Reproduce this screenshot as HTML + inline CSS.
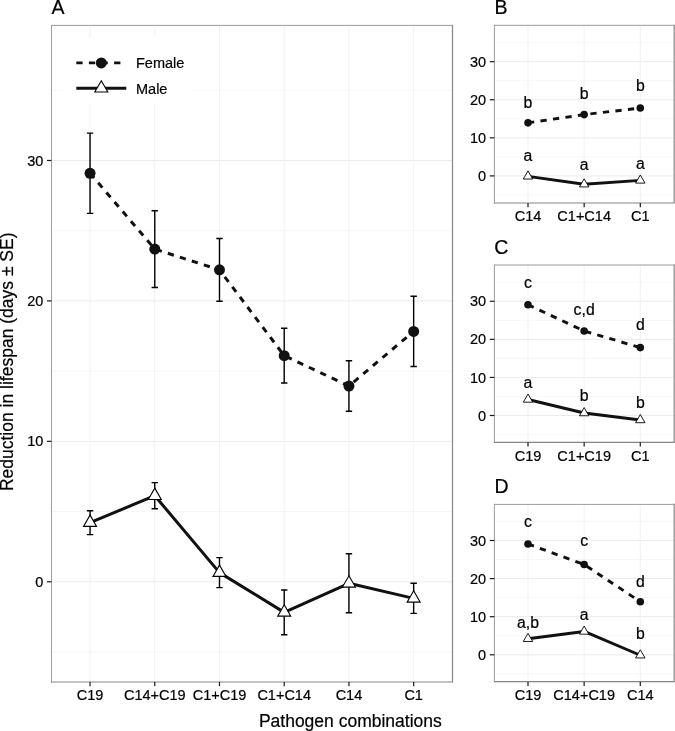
<!DOCTYPE html>
<html><head><meta charset="utf-8"><style>
html,body{margin:0;padding:0;background:#fff;}
body{width:675px;height:731px;overflow:hidden;}
svg{display:block;will-change:transform;}
text{font-family:"Liberation Sans", sans-serif;fill:#000;stroke:#000;stroke-width:0.2px;}
</style></head><body>
<svg width="675" height="731" viewBox="0 0 675 731" font-size="14.5">
<rect width="675" height="731" fill="#fff"/>
<line x1="51.5" y1="651.99" x2="452.5" y2="651.99" stroke="#f7f7f7"/>
<line x1="51.5" y1="511.55" x2="452.5" y2="511.55" stroke="#f7f7f7"/>
<line x1="51.5" y1="371.12" x2="452.5" y2="371.12" stroke="#f7f7f7"/>
<line x1="51.5" y1="230.69" x2="452.5" y2="230.69" stroke="#f7f7f7"/>
<line x1="51.5" y1="90.26" x2="452.5" y2="90.26" stroke="#f7f7f7"/>
<line x1="51.5" y1="581.77" x2="452.5" y2="581.77" stroke="#ebebeb"/>
<line x1="51.5" y1="441.34" x2="452.5" y2="441.34" stroke="#ebebeb"/>
<line x1="51.5" y1="300.91" x2="452.5" y2="300.91" stroke="#ebebeb"/>
<line x1="51.5" y1="160.48" x2="452.5" y2="160.48" stroke="#ebebeb"/>
<line x1="90.05" y1="25.4" x2="90.05" y2="682" stroke="#f1f1f1"/>
<line x1="154.77" y1="25.4" x2="154.77" y2="682" stroke="#f1f1f1"/>
<line x1="219.49" y1="25.4" x2="219.49" y2="682" stroke="#f1f1f1"/>
<line x1="284.21" y1="25.4" x2="284.21" y2="682" stroke="#f1f1f1"/>
<line x1="348.93" y1="25.4" x2="348.93" y2="682" stroke="#f1f1f1"/>
<line x1="413.65" y1="25.4" x2="413.65" y2="682" stroke="#f1f1f1"/>
<path d="M86.85 133.1H93.25M90.05 133.1V213.42M86.85 213.42H93.25" stroke="#000" stroke-width="1.4" fill="none"/>
<path d="M86.85 510.71H93.25M90.05 510.71V534.59M86.85 534.59H93.25" stroke="#000" stroke-width="1.4" fill="none"/>
<path d="M151.57 210.75H157.97M154.77 210.75V287.43M151.57 287.43H157.97" stroke="#000" stroke-width="1.4" fill="none"/>
<path d="M151.57 482.63H157.97M154.77 482.63V508.75M151.57 508.75H157.97" stroke="#000" stroke-width="1.4" fill="none"/>
<path d="M216.29 238.56H222.69M219.49 238.56V301.19M216.29 301.19H222.69" stroke="#000" stroke-width="1.4" fill="none"/>
<path d="M216.29 557.62H222.69M219.49 557.62V587.67M216.29 587.67H222.69" stroke="#000" stroke-width="1.4" fill="none"/>
<path d="M281.01 328.29H287.41M284.21 328.29V383.06M281.01 383.06H287.41" stroke="#000" stroke-width="1.4" fill="none"/>
<path d="M281.01 590.06H287.41M284.21 590.06V634.71M281.01 634.71H287.41" stroke="#000" stroke-width="1.4" fill="none"/>
<path d="M345.73 360.73H352.13M348.93 360.73V411.29M345.73 411.29H352.13" stroke="#000" stroke-width="1.4" fill="none"/>
<path d="M345.73 553.82H352.13M348.93 553.82V612.81M345.73 612.81H352.13" stroke="#000" stroke-width="1.4" fill="none"/>
<path d="M410.45 296.28H416.85M413.65 296.28V366.49M410.45 366.49H416.85" stroke="#000" stroke-width="1.4" fill="none"/>
<path d="M410.45 583.31H416.85M413.65 583.31V613.37M410.45 613.37H416.85" stroke="#000" stroke-width="1.4" fill="none"/>
<polyline points="90.05,173.26 154.77,249.09 219.49,269.87 284.21,355.68 348.93,386.01 413.65,331.38" fill="none" stroke="#111" stroke-width="3.0" stroke-dasharray="6.3 6.3"/>
<polyline points="90.05,522.65 154.77,495.69 219.49,572.64 284.21,612.38 348.93,583.31 413.65,598.34" fill="none" stroke="#111" stroke-width="3.0" stroke-linejoin="round"/>
<circle cx="90.05" cy="173.26" r="5.5" fill="#111"/>
<circle cx="154.77" cy="249.09" r="5.5" fill="#111"/>
<circle cx="219.49" cy="269.87" r="5.5" fill="#111"/>
<circle cx="284.21" cy="355.68" r="5.5" fill="#111"/>
<circle cx="348.93" cy="386.01" r="5.5" fill="#111"/>
<circle cx="413.65" cy="331.38" r="5.5" fill="#111"/>
<path d="M90.05 515.11L96.58 526.42L83.52 526.42Z" fill="#fff" stroke="#000" stroke-width="1.1"/>
<path d="M154.77 488.14L161.3 499.46L148.24 499.46Z" fill="#fff" stroke="#000" stroke-width="1.1"/>
<path d="M219.49 565.1L226.02 576.41L212.96 576.41Z" fill="#fff" stroke="#000" stroke-width="1.1"/>
<path d="M284.21 604.84L290.74 616.16L277.68 616.16Z" fill="#fff" stroke="#000" stroke-width="1.1"/>
<path d="M348.93 575.77L355.46 587.09L342.4 587.09Z" fill="#fff" stroke="#000" stroke-width="1.1"/>
<path d="M413.65 590.8L420.18 602.11L407.12 602.11Z" fill="#fff" stroke="#000" stroke-width="1.1"/>
<path d="M452.5 24.8V682.6M50.9 682H453.1" stroke="#858585" stroke-width="1.2" fill="none"/>
<path d="M51.5 24.9V682.6M51 25.4H453.1" stroke="#9c9c9c" stroke-width="1" fill="none"/>
<line x1="46.9" y1="581.77" x2="51.5" y2="581.77" stroke="#1a1a1a" stroke-width="1.2"/>
<text x="43.3" y="586.87" text-anchor="end">0</text>
<line x1="46.9" y1="441.34" x2="51.5" y2="441.34" stroke="#1a1a1a" stroke-width="1.2"/>
<text x="43.3" y="446.44" text-anchor="end">10</text>
<line x1="46.9" y1="300.91" x2="51.5" y2="300.91" stroke="#1a1a1a" stroke-width="1.2"/>
<text x="43.3" y="306.01" text-anchor="end">20</text>
<line x1="46.9" y1="160.48" x2="51.5" y2="160.48" stroke="#1a1a1a" stroke-width="1.2"/>
<text x="43.3" y="165.58" text-anchor="end">30</text>
<line x1="90.05" y1="682" x2="90.05" y2="686.2" stroke="#1a1a1a" stroke-width="1.2"/>
<text x="90.05" y="700.4" text-anchor="middle">C19</text>
<line x1="154.77" y1="682" x2="154.77" y2="686.2" stroke="#1a1a1a" stroke-width="1.2"/>
<text x="154.77" y="700.4" text-anchor="middle">C14+C19</text>
<line x1="219.49" y1="682" x2="219.49" y2="686.2" stroke="#1a1a1a" stroke-width="1.2"/>
<text x="219.49" y="700.4" text-anchor="middle">C1+C19</text>
<line x1="284.21" y1="682" x2="284.21" y2="686.2" stroke="#1a1a1a" stroke-width="1.2"/>
<text x="284.21" y="700.4" text-anchor="middle">C1+C14</text>
<line x1="348.93" y1="682" x2="348.93" y2="686.2" stroke="#1a1a1a" stroke-width="1.2"/>
<text x="348.93" y="700.4" text-anchor="middle">C14</text>
<line x1="413.65" y1="682" x2="413.65" y2="686.2" stroke="#1a1a1a" stroke-width="1.2"/>
<text x="413.65" y="700.4" text-anchor="middle">C1</text>
<line x1="494.4" y1="194.94" x2="674.2" y2="194.94" stroke="#f7f7f7"/>
<line x1="494.4" y1="156.87" x2="674.2" y2="156.87" stroke="#f7f7f7"/>
<line x1="494.4" y1="118.8" x2="674.2" y2="118.8" stroke="#f7f7f7"/>
<line x1="494.4" y1="80.73" x2="674.2" y2="80.73" stroke="#f7f7f7"/>
<line x1="494.4" y1="42.66" x2="674.2" y2="42.66" stroke="#f7f7f7"/>
<line x1="494.4" y1="175.9" x2="674.2" y2="175.9" stroke="#ebebeb"/>
<line x1="494.4" y1="137.83" x2="674.2" y2="137.83" stroke="#ebebeb"/>
<line x1="494.4" y1="99.76" x2="674.2" y2="99.76" stroke="#ebebeb"/>
<line x1="494.4" y1="61.69" x2="674.2" y2="61.69" stroke="#ebebeb"/>
<line x1="528" y1="25.3" x2="528" y2="203" stroke="#f1f1f1"/>
<line x1="584.15" y1="25.3" x2="584.15" y2="203" stroke="#f1f1f1"/>
<line x1="640.3" y1="25.3" x2="640.3" y2="203" stroke="#f1f1f1"/>
<polyline points="528,122.83 584.15,114.61 640.3,108.02" fill="none" stroke="#111" stroke-width="2.9" stroke-dasharray="6.3 6.3"/>
<polyline points="528,176.32 584.15,184.2 640.3,180.39" fill="none" stroke="#111" stroke-width="2.9" stroke-linejoin="round"/>
<circle cx="528" cy="122.83" r="3.8" fill="#111"/>
<circle cx="584.15" cy="114.61" r="3.8" fill="#111"/>
<circle cx="640.3" cy="108.02" r="3.8" fill="#111"/>
<path d="M528 170.88L532.71 179.04L523.29 179.04Z" fill="#fff" stroke="#000" stroke-width="0.9"/>
<path d="M584.15 178.76L588.86 186.92L579.44 186.92Z" fill="#fff" stroke="#000" stroke-width="0.9"/>
<path d="M640.3 174.95L645.01 183.11L635.59 183.11Z" fill="#fff" stroke="#000" stroke-width="0.9"/>
<path d="M674.2 24.7V203.6M493.8 203H674.8" stroke="#858585" stroke-width="1.2" fill="none"/>
<path d="M494.4 24.8V203.6M493.9 25.3H674.8" stroke="#9c9c9c" stroke-width="1" fill="none"/>
<line x1="489.8" y1="175.9" x2="494.4" y2="175.9" stroke="#1a1a1a" stroke-width="1.2"/>
<text x="486.2" y="181" text-anchor="end">0</text>
<line x1="489.8" y1="137.83" x2="494.4" y2="137.83" stroke="#1a1a1a" stroke-width="1.2"/>
<text x="486.2" y="142.93" text-anchor="end">10</text>
<line x1="489.8" y1="99.76" x2="494.4" y2="99.76" stroke="#1a1a1a" stroke-width="1.2"/>
<text x="486.2" y="104.86" text-anchor="end">20</text>
<line x1="489.8" y1="61.69" x2="494.4" y2="61.69" stroke="#1a1a1a" stroke-width="1.2"/>
<text x="486.2" y="66.79" text-anchor="end">30</text>
<line x1="528" y1="203" x2="528" y2="207.2" stroke="#1a1a1a" stroke-width="1.2"/>
<text x="528" y="221.4" text-anchor="middle">C14</text>
<line x1="584.15" y1="203" x2="584.15" y2="207.2" stroke="#1a1a1a" stroke-width="1.2"/>
<text x="584.15" y="221.4" text-anchor="middle">C1+C14</text>
<line x1="640.3" y1="203" x2="640.3" y2="207.2" stroke="#1a1a1a" stroke-width="1.2"/>
<text x="640.3" y="221.4" text-anchor="middle">C1</text>
<text x="528" y="108.17" text-anchor="middle" font-size="15.8">b</text>
<text x="528" y="160.52" text-anchor="middle" font-size="15.8">a</text>
<text x="584.15" y="99.38" text-anchor="middle" font-size="15.8">b</text>
<text x="584.15" y="170.34" text-anchor="middle" font-size="15.8">a</text>
<text x="640.3" y="90.7" text-anchor="middle" font-size="15.8">b</text>
<text x="640.3" y="168.51" text-anchor="middle" font-size="15.8">a</text>
<line x1="494.4" y1="434.54" x2="674.2" y2="434.54" stroke="#f7f7f7"/>
<line x1="494.4" y1="396.46" x2="674.2" y2="396.46" stroke="#f7f7f7"/>
<line x1="494.4" y1="358.39" x2="674.2" y2="358.39" stroke="#f7f7f7"/>
<line x1="494.4" y1="320.32" x2="674.2" y2="320.32" stroke="#f7f7f7"/>
<line x1="494.4" y1="282.25" x2="674.2" y2="282.25" stroke="#f7f7f7"/>
<line x1="494.4" y1="415.5" x2="674.2" y2="415.5" stroke="#ebebeb"/>
<line x1="494.4" y1="377.43" x2="674.2" y2="377.43" stroke="#ebebeb"/>
<line x1="494.4" y1="339.36" x2="674.2" y2="339.36" stroke="#ebebeb"/>
<line x1="494.4" y1="301.29" x2="674.2" y2="301.29" stroke="#ebebeb"/>
<line x1="528" y1="265" x2="528" y2="442.3" stroke="#f1f1f1"/>
<line x1="584.15" y1="265" x2="584.15" y2="442.3" stroke="#f1f1f1"/>
<line x1="640.3" y1="265" x2="640.3" y2="442.3" stroke="#f1f1f1"/>
<polyline points="528,304.75 584.15,330.95 640.3,347.62" fill="none" stroke="#111" stroke-width="2.9" stroke-dasharray="6.3 6.3"/>
<polyline points="528,399.47 584.15,413.03 640.3,419.99" fill="none" stroke="#111" stroke-width="2.9" stroke-linejoin="round"/>
<circle cx="528" cy="304.75" r="3.8" fill="#111"/>
<circle cx="584.15" cy="330.95" r="3.8" fill="#111"/>
<circle cx="640.3" cy="347.62" r="3.8" fill="#111"/>
<path d="M528 394.03L532.71 402.19L523.29 402.19Z" fill="#fff" stroke="#000" stroke-width="0.9"/>
<path d="M584.15 407.58L588.86 415.75L579.44 415.75Z" fill="#fff" stroke="#000" stroke-width="0.9"/>
<path d="M640.3 414.55L645.01 422.71L635.59 422.71Z" fill="#fff" stroke="#000" stroke-width="0.9"/>
<path d="M674.2 264.4V442.9M493.8 442.3H674.8" stroke="#858585" stroke-width="1.2" fill="none"/>
<path d="M494.4 264.5V442.9M493.9 265H674.8" stroke="#9c9c9c" stroke-width="1" fill="none"/>
<line x1="489.8" y1="415.5" x2="494.4" y2="415.5" stroke="#1a1a1a" stroke-width="1.2"/>
<text x="486.2" y="420.6" text-anchor="end">0</text>
<line x1="489.8" y1="377.43" x2="494.4" y2="377.43" stroke="#1a1a1a" stroke-width="1.2"/>
<text x="486.2" y="382.53" text-anchor="end">10</text>
<line x1="489.8" y1="339.36" x2="494.4" y2="339.36" stroke="#1a1a1a" stroke-width="1.2"/>
<text x="486.2" y="344.46" text-anchor="end">20</text>
<line x1="489.8" y1="301.29" x2="494.4" y2="301.29" stroke="#1a1a1a" stroke-width="1.2"/>
<text x="486.2" y="306.39" text-anchor="end">30</text>
<line x1="528" y1="442.3" x2="528" y2="446.5" stroke="#1a1a1a" stroke-width="1.2"/>
<text x="528" y="460.7" text-anchor="middle">C19</text>
<line x1="584.15" y1="442.3" x2="584.15" y2="446.5" stroke="#1a1a1a" stroke-width="1.2"/>
<text x="584.15" y="460.7" text-anchor="middle">C1+C19</text>
<line x1="640.3" y1="442.3" x2="640.3" y2="446.5" stroke="#1a1a1a" stroke-width="1.2"/>
<text x="640.3" y="460.7" text-anchor="middle">C1</text>
<text x="528" y="287.5" text-anchor="middle" font-size="15.8">c</text>
<text x="528" y="388.43" text-anchor="middle" font-size="15.8">a</text>
<text x="584.15" y="314.65" text-anchor="middle" font-size="15.8">c,d</text>
<text x="584.15" y="401.15" text-anchor="middle" font-size="15.8">b</text>
<text x="640.3" y="330.3" text-anchor="middle" font-size="15.8">d</text>
<text x="640.3" y="408.11" text-anchor="middle" font-size="15.8">b</text>
<line x1="494.4" y1="673.85" x2="674.2" y2="673.85" stroke="#f7f7f7"/>
<line x1="494.4" y1="635.75" x2="674.2" y2="635.75" stroke="#f7f7f7"/>
<line x1="494.4" y1="597.65" x2="674.2" y2="597.65" stroke="#f7f7f7"/>
<line x1="494.4" y1="559.55" x2="674.2" y2="559.55" stroke="#f7f7f7"/>
<line x1="494.4" y1="521.45" x2="674.2" y2="521.45" stroke="#f7f7f7"/>
<line x1="494.4" y1="654.8" x2="674.2" y2="654.8" stroke="#ebebeb"/>
<line x1="494.4" y1="616.7" x2="674.2" y2="616.7" stroke="#ebebeb"/>
<line x1="494.4" y1="578.6" x2="674.2" y2="578.6" stroke="#ebebeb"/>
<line x1="494.4" y1="540.5" x2="674.2" y2="540.5" stroke="#ebebeb"/>
<line x1="528" y1="504.4" x2="528" y2="681.7" stroke="#f1f1f1"/>
<line x1="584.15" y1="504.4" x2="584.15" y2="681.7" stroke="#f1f1f1"/>
<line x1="640.3" y1="504.4" x2="640.3" y2="681.7" stroke="#f1f1f1"/>
<polyline points="528,543.97 584.15,564.54 640.3,601.69" fill="none" stroke="#111" stroke-width="2.9" stroke-dasharray="6.3 6.3"/>
<polyline points="528,638.76 584.15,631.44 640.3,655.22" fill="none" stroke="#111" stroke-width="2.9" stroke-linejoin="round"/>
<circle cx="528" cy="543.97" r="3.8" fill="#111"/>
<circle cx="584.15" cy="564.54" r="3.8" fill="#111"/>
<circle cx="640.3" cy="601.69" r="3.8" fill="#111"/>
<path d="M528 633.32L532.71 641.48L523.29 641.48Z" fill="#fff" stroke="#000" stroke-width="0.9"/>
<path d="M584.15 626L588.86 634.17L579.44 634.17Z" fill="#fff" stroke="#000" stroke-width="0.9"/>
<path d="M640.3 649.78L645.01 657.94L635.59 657.94Z" fill="#fff" stroke="#000" stroke-width="0.9"/>
<path d="M674.2 503.8V682.3M493.8 681.7H674.8" stroke="#858585" stroke-width="1.2" fill="none"/>
<path d="M494.4 503.9V682.3M493.9 504.4H674.8" stroke="#9c9c9c" stroke-width="1" fill="none"/>
<line x1="489.8" y1="654.8" x2="494.4" y2="654.8" stroke="#1a1a1a" stroke-width="1.2"/>
<text x="486.2" y="659.9" text-anchor="end">0</text>
<line x1="489.8" y1="616.7" x2="494.4" y2="616.7" stroke="#1a1a1a" stroke-width="1.2"/>
<text x="486.2" y="621.8" text-anchor="end">10</text>
<line x1="489.8" y1="578.6" x2="494.4" y2="578.6" stroke="#1a1a1a" stroke-width="1.2"/>
<text x="486.2" y="583.7" text-anchor="end">20</text>
<line x1="489.8" y1="540.5" x2="494.4" y2="540.5" stroke="#1a1a1a" stroke-width="1.2"/>
<text x="486.2" y="545.6" text-anchor="end">30</text>
<line x1="528" y1="681.7" x2="528" y2="685.9" stroke="#1a1a1a" stroke-width="1.2"/>
<text x="528" y="700.1" text-anchor="middle">C19</text>
<line x1="584.15" y1="681.7" x2="584.15" y2="685.9" stroke="#1a1a1a" stroke-width="1.2"/>
<text x="584.15" y="700.1" text-anchor="middle">C14+C19</text>
<line x1="640.3" y1="681.7" x2="640.3" y2="685.9" stroke="#1a1a1a" stroke-width="1.2"/>
<text x="640.3" y="700.1" text-anchor="middle">C14</text>
<text x="528" y="527.4" text-anchor="middle" font-size="15.8">c</text>
<text x="528" y="627.71" text-anchor="middle" font-size="15.8">a,b</text>
<text x="584.15" y="546.33" text-anchor="middle" font-size="15.8">c</text>
<text x="584.15" y="620.09" text-anchor="middle" font-size="15.8">a</text>
<text x="640.3" y="587.02" text-anchor="middle" font-size="15.8">d</text>
<text x="640.3" y="639.41" text-anchor="middle" font-size="15.8">b</text>
<rect x="64" y="38" width="127" height="66" fill="#fff"/>
<line x1="76.3" y1="62.9" x2="126.3" y2="62.9" stroke="#111" stroke-width="2.9" stroke-dasharray="6.3 6.3"/>
<circle cx="101.3" cy="62.9" r="5.5" fill="#111"/>
<line x1="76.3" y1="88.3" x2="126.3" y2="88.3" stroke="#111" stroke-width="2.9"/>
<path d="M101.3 80.76L107.83 92.07L94.77 92.07Z" fill="#fff" stroke="#000" stroke-width="1.1"/>
<text x="136" y="68.2">Female</text>
<text x="136" y="93.6">Male</text>
<text x="51.6" y="14.2" font-size="19.5">A</text>
<text x="494.6" y="14.2" font-size="19.5">B</text>
<text x="494.2" y="254" font-size="19.5">C</text>
<text x="494.5" y="492.7" font-size="19.5">D</text>
<text x="258.9" y="726.7" font-size="17.5">Pathogen combinations</text>
<text transform="translate(12.8 491.1) rotate(-90)" font-size="17.5">Reduction in lifespan (days ± SE)</text>
</svg>
</body></html>
